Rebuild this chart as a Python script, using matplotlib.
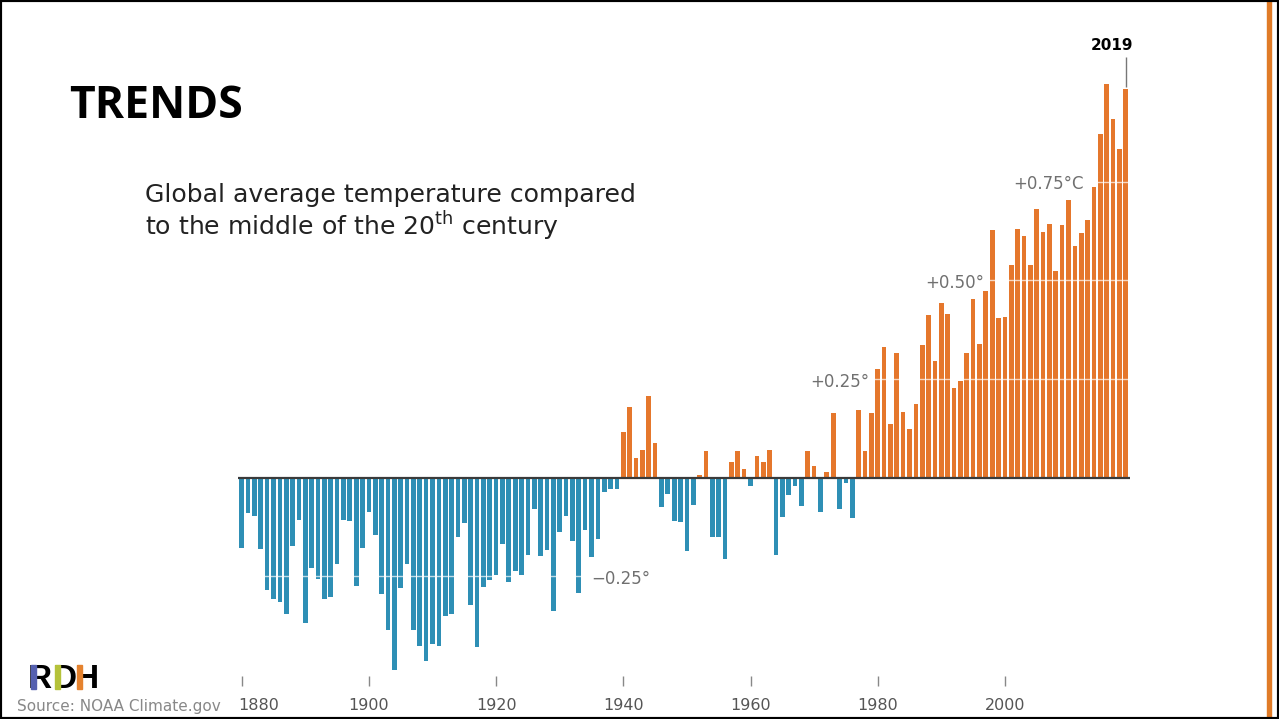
import numpy as np
import matplotlib
matplotlib.use('Agg')
import matplotlib.pyplot as plt
from matplotlib.patches import Rectangle

# ---------------- data ----------------
start_year = 1880
anomalies = [
    -0.177, -0.090, -0.098, -0.180, -0.285, -0.307, -0.314, -0.346, -0.173, -0.106,   # 1880s
    -0.367, -0.230, -0.257, -0.307, -0.302, -0.218, -0.106, -0.110, -0.274, -0.178,   # 1890s
    -0.086, -0.146, -0.294, -0.386, -0.486, -0.279, -0.218, -0.386, -0.426, -0.465,   # 1900s
    -0.422, -0.426, -0.350, -0.346, -0.150, -0.114, -0.322, -0.429, -0.276, -0.260,   # 1910s
    -0.247, -0.169, -0.263, -0.236, -0.247, -0.196, -0.080, -0.198, -0.183, -0.337,   # 1920s
    -0.137, -0.096, -0.160, -0.291, -0.132, -0.200, -0.156, -0.036, -0.028, -0.028,   # 1930s
    0.115, 0.178, 0.051, 0.071, 0.207, 0.087, -0.073, -0.041, -0.109, -0.112,         # 1940s
    -0.185, -0.068, 0.007, 0.068, -0.149, -0.149, -0.206, 0.039, 0.068, 0.023,        # 1950s
    -0.020, 0.055, 0.040, 0.070, -0.197, -0.099, -0.044, -0.020, -0.072, 0.067,       # 1960s
    0.030, -0.088, 0.015, 0.163, -0.079, -0.013, -0.103, 0.171, 0.068, 0.163,         # 1970s
    0.275, 0.331, 0.136, 0.317, 0.167, 0.123, 0.187, 0.336, 0.411, 0.296,             # 1980s
    0.443, 0.416, 0.228, 0.245, 0.317, 0.453, 0.340, 0.473, 0.627, 0.404,             # 1990s
    0.408, 0.540, 0.629, 0.612, 0.540, 0.680, 0.623, 0.644, 0.524, 0.640,             # 2000s
    0.704, 0.588, 0.620, 0.652, 0.736, 0.872, 0.997, 0.908, 0.832, 0.985,             # 2010s
]
years = np.arange(start_year, start_year + len(anomalies))
values = np.array(anomalies)

tick_years = [1880, 1900, 1920, 1940, 1960, 1980, 2000]
tick_labels = [str(y) for y in tick_years]
grid_levels = [-0.25, 0.25, 0.50, 0.75]
grid_labels = ['\u22120.25°', '+0.25°', '+0.50°', '+0.75°C']
highlight_year = 2019

title = 'TRENDS'
subtitle_1 = 'Global average temperature compared'
subtitle_2 = 'to the middle of the 20$^{\\mathrm{th}}$ century'
source = 'Source: NOAA Climate.gov'

ORANGE = '#E5772C'
BLUE = '#2E8FB5'

# ---------------- figure ----------------
W, H = 1279, 719
fig = plt.figure(figsize=(W / 100, H / 100), dpi=100)
fig.patch.set_facecolor('white')

ax = fig.add_axes([0, 0, 1, 1])
ax.axis('off')

PX_PER_YEAR = 6.36
PX_PER_DEG = 394.7
X_1880 = 241.7
Y_ZERO = 477.7
x0 = 1880 - X_1880 / PX_PER_YEAR
ax.set_xlim(x0, x0 + W / PX_PER_YEAR)
ax.set_ylim(-(H - Y_ZERO) / PX_PER_DEG, Y_ZERO / PX_PER_DEG)


def xdat(px):
    return x0 + px / PX_PER_YEAR


def ydat(py):
    return (Y_ZERO - py) / PX_PER_DEG


def fx(px):
    return px / W


def fy(py):
    return 1 - py / H


colors = [ORANGE if v >= 0 else BLUE for v in values]
ax.bar(years, values, width=0.74, color=colors, linewidth=0, zorder=2)

# white grid lines over bars
for lvl in grid_levels:
    ax.hlines(lvl, years[0] - 0.5, years[-1] + 0.5, colors='white', lw=1.0,
              alpha=0.7, zorder=3)

# zero line
ax.hlines(0, years[0] - 0.6, years[-1] + 0.6, colors='#3a3a3a', lw=1.6, zorder=4)

# grid labels
label_left_px = [591, 810, 925, 1013]
for lvl, lab, lpx in zip(grid_levels, grid_labels, label_left_px):
    ax.text(xdat(lpx), lvl - 0.0065, lab, ha='left', va='center', fontsize=12,
            color='#707070', zorder=5)

# highlight year
hv = values[list(years).index(highlight_year)]
ax.vlines(highlight_year, hv + 0.004, ydat(57), colors='#777777', lw=1, zorder=5)
ax.text(xdat(1133), ydat(46), str(highlight_year), ha='right', va='center',
        fontsize=11, fontweight='bold', color='black')

# x ticks
ax.vlines(tick_years, ydat(686), ydat(676), colors='#888888', lw=1)
for i, (ty, tl) in enumerate(zip(tick_years, tick_labels)):
    if i == 0:
        ax.text(xdat(238), ydat(706), tl, ha='left', va='center', fontsize=11.5,
                color='#555555')
    else:
        ax.text(ty, ydat(706), tl, ha='center', va='center', fontsize=11.5,
                color='#555555')

# ---------------- texts ----------------
fig.text(fx(69), fy(118), title, ha='left', va='baseline', fontsize=32,
         fontweight='bold', family='Open Sans', color='black')
fig.text(fx(145), fy(202), subtitle_1, ha='left', va='baseline', fontsize=18.1,
         color='#222222')
fig.text(fx(145), fy(235), subtitle_2, ha='left', va='baseline', fontsize=18.1,
         color='#222222')
fig.text(fx(17), fy(706), source, ha='left', va='center', fontsize=11,
         color='#888888')

# ---------------- logo ----------------
logo_letters = ['R', 'D', 'H']
logo_left = [30.5, 55.0, 77.0]
stem_colors = ['#5560B0', '#B5C23A', '#E5822E']
for let, lx, sc in zip(logo_letters, logo_left, stem_colors):
    fig.text(fx(lx - 2.3), fy(688.5), let, ha='left', va='baseline', fontsize=24,
             fontweight='bold', family='Liberation Sans', color='black')
    fig.patches.append(Rectangle((fx(lx), fy(688.5)), 5.0 / W, 23.5 / H,
                                 transform=fig.transFigure, color=sc, zorder=10))

# ---------------- frame ----------------
fig.patches.append(Rectangle((fx(1267), 0), 4 / W, 1, transform=fig.transFigure,
                             color='#E07B27', zorder=10))
fig.patches.append(Rectangle((0, 0), 1, 1, transform=fig.transFigure, fill=False,
                             edgecolor='black', lw=3, zorder=11))

fig.savefig('out.png', dpi=100, facecolor='white')
